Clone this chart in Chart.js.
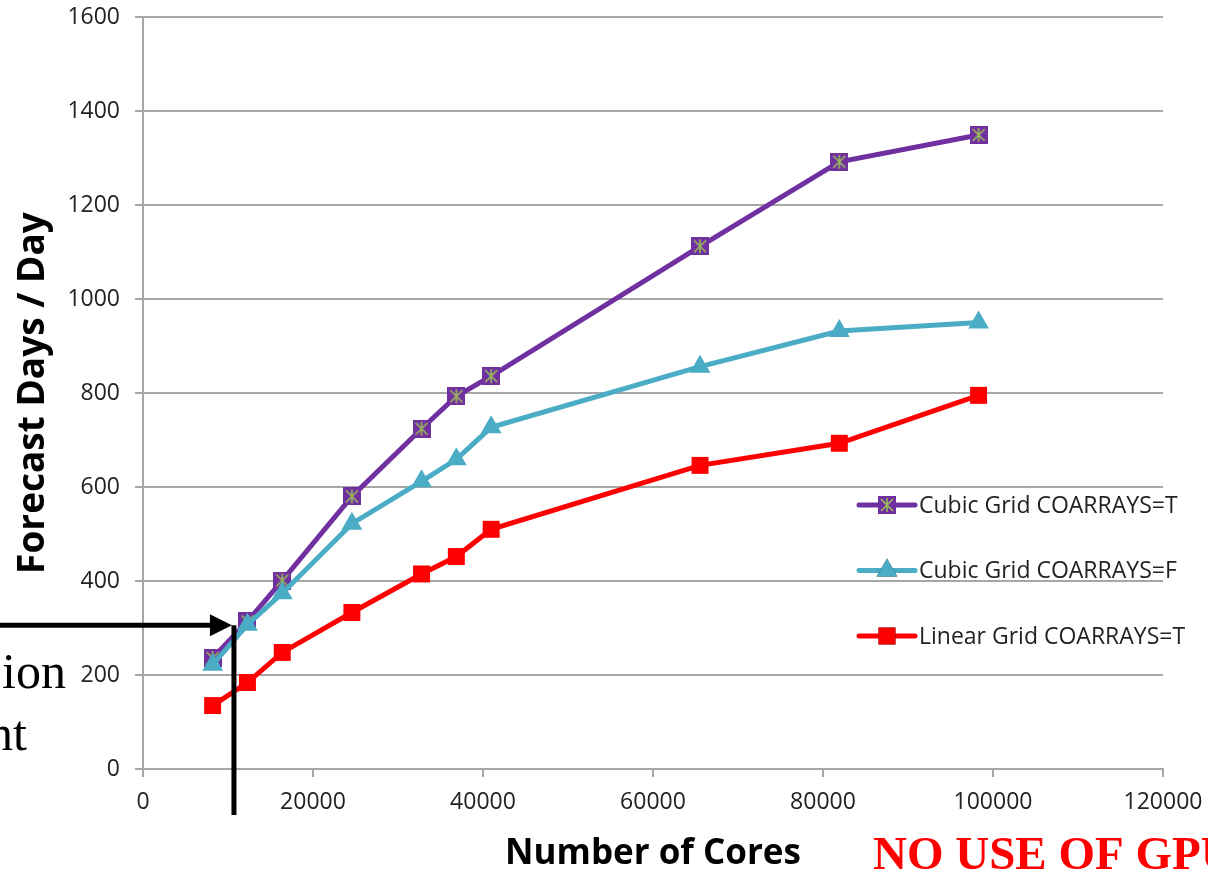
<!DOCTYPE html>
<html>
<head>
<meta charset="utf-8">
<title>Forecast Days / Day vs Number of Cores</title>
<script src="https://cdn.jsdelivr.net/npm/chart.js"></script>
<style>
  html, body { margin: 0; padding: 0; background: #ffffff; overflow: hidden; }
  #wrap { position: relative; width: 1208px; height: 872px; }
</style>
</head>
<body>
<div id="wrap"><canvas id="chart" width="1208" height="872"></canvas></div>
<script>
// Core counts used for each run
const cores = [8192, 12288, 16384, 24576, 32768, 36864, 40960, 65536, 81920, 98304];

// Throughput (forecast days per wall-clock day) for each configuration
const cubicGridCoarraysT = [236, 314, 401, 580, 724, 793, 836, 1112, 1292, 1349];
const cubicGridCoarraysF = [222, 307, 374, 522, 612, 659, 727, 856, 932, 950];
const linearGridCoarraysT = [135, 184, 248, 333, 415, 452, 510, 646, 693, 795];

const seriesNames = ['Cubic Grid COARRAYS=T', 'Cubic Grid COARRAYS=F', 'Linear Grid COARRAYS=T'];

// Axis ranges and tick steps
const xAxisRange = [0, 120000];
const xTickStep = 20000;
const yAxisRange = [0, 1600];
const yTickStep = 200;

// Operating point marked by the black arrow
const markerCores = 10700;
const markerRate = 306;

const PURPLE = '#7030A0';
const CYAN = '#4BACC6';
const RED = '#FF0000';
const STAR = '#9BBB59';
const GRID = '#a6a6a6';

// Square marker with an asterisk, used for the COARRAYS=T cubic series
function starSquare(size) {
  const c = document.createElement('canvas');
  c.width = size; c.height = size;
  const g = c.getContext('2d');
  g.fillStyle = PURPLE;
  g.fillRect(0, 0, size, size);
  g.strokeStyle = STAR;
  g.lineWidth = 1.6;
  const m = size / 2, a = 3, b = size - 3;
  g.beginPath();
  g.moveTo(a, a); g.lineTo(b, b);
  g.moveTo(b, a); g.lineTo(a, b);
  g.moveTo(m, 2); g.lineTo(m, size - 2);
  g.stroke();
  return c;
}
const starMarker = starSquare(18);

const pairs = ys => cores.map((x, i) => ({ x: x, y: ys[i] }));

const datasets = [
  {
    label: seriesNames[0],
    data: pairs(cubicGridCoarraysT),
    borderColor: PURPLE,
    backgroundColor: PURPLE,
    borderWidth: 5,
    pointStyle: starMarker,
    pointRadius: 9,
    order: 3
  },
  {
    label: seriesNames[1],
    data: pairs(cubicGridCoarraysF),
    borderColor: CYAN,
    backgroundColor: CYAN,
    borderWidth: 5,
    pointStyle: 'triangle',
    pointRadius: 12,
    pointBorderWidth: 0,
    order: 2
  },
  {
    label: seriesNames[2],
    data: pairs(linearGridCoarraysT),
    borderColor: RED,
    backgroundColor: RED,
    borderWidth: 5,
    pointStyle: 'rect',
    pointRadius: 12,
    pointBorderWidth: 0,
    order: 1
  }
];

// Legend drawn inside the plot: a short line with the marker on it, then the name
const legendPlugin = {
  id: 'inlineLegend',
  afterDraw(chart) {
    const ctx = chart.ctx;
    const area = chart.chartArea;
    const x0 = area.left + 716, x1 = area.left + 772;
    const top = area.top + 488, step = 65.5;
    ctx.save();
    chart.data.datasets.forEach((ds, i) => {
      const y = top + i * step;
      ctx.strokeStyle = ds.borderColor;
      ctx.lineWidth = 5;
      ctx.lineCap = 'round';
      ctx.beginPath();
      ctx.moveTo(x0, y); ctx.lineTo(x1, y);
      ctx.stroke();
      const cx = (x0 + x1) / 2;
      if (ds.pointStyle instanceof HTMLCanvasElement) {
        const s = ds.pointStyle;
        ctx.drawImage(s, cx - s.width / 2, y - s.height / 2);
      } else {
        Chart.helpers.drawPoint(ctx, {
          pointStyle: ds.pointStyle, radius: ds.pointRadius, borderWidth: 0, rotation: 0
        }, cx, y);
        ctx.fillStyle = ds.backgroundColor;
        ctx.fill();
      }
      ctx.fillStyle = '#222';
      ctx.font = "23px 'Open Sans', sans-serif";
      ctx.textBaseline = 'middle';
      ctx.textAlign = 'left';
      ctx.fillText(ds.label, x1 + 4, y + 1);
    });
    ctx.restore();
  }
};

// Arrow, guide line and slide text around the plot
const notesPlugin = {
  id: 'slideNotes',
  afterDraw(chart) {
    const ctx = chart.ctx;
    const xs = chart.scales.x, ys = chart.scales.y;
    const vx = xs.getPixelForValue(markerCores);
    const hy = ys.getPixelForValue(markerRate);
    ctx.save();
    ctx.fillStyle = '#000';
    ctx.strokeStyle = '#000';
    ctx.lineWidth = 5;
    ctx.lineCap = 'butt';
    // horizontal arrow shaft
    ctx.beginPath();
    ctx.moveTo(0, hy); ctx.lineTo(vx - 22, hy);
    ctx.stroke();
    // arrow head
    ctx.beginPath();
    ctx.moveTo(vx - 2, hy);
    ctx.lineTo(vx - 24, hy - 11);
    ctx.lineTo(vx - 24, hy + 11);
    ctx.closePath();
    ctx.fill();
    // vertical guide line
    ctx.beginPath();
    ctx.moveTo(vx, hy); ctx.lineTo(vx, chart.chartArea.bottom + 46);
    ctx.stroke();

    // slide caption fragments on the left
    ctx.font = "50px 'Liberation Serif', 'Times New Roman', serif";
    ctx.textAlign = 'right';
    ctx.textBaseline = 'alphabetic';
    ctx.fillText('ion', 66, 688);
    ctx.fillText('nt', 27, 750);

    // red note in the lower right
    ctx.fillStyle = RED;
    ctx.font = "bold 47px 'Liberation Serif', 'Times New Roman', serif";
    ctx.textAlign = 'left';
    ctx.fillText('NO USE OF GPU', 873, 869);
    ctx.restore();
  }
};

Chart.defaults.font.family = "'Open Sans', sans-serif";

new Chart(document.getElementById('chart'), {
  type: 'line',
  data: { datasets: datasets },
  options: {
    responsive: false,
    animation: false,
    devicePixelRatio: 1,
    layout: { padding: { top: 17, right: 45, bottom: 0, left: 0 } },
    elements: { line: { tension: 0 } },
    plugins: {
      legend: { display: false },
      tooltip: { enabled: false }
    },
    scales: {
      x: {
        type: 'linear',
        min: xAxisRange[0],
        max: xAxisRange[1],
        afterFit(scale) {
          scale.height = 103;
          scale.paddingLeft = 0;
          scale.paddingRight = 0;
        },
        ticks: {
          stepSize: xTickStep,
          color: '#222',
          font: { size: 23 },
          padding: 12,
          maxRotation: 0,
          callback: v => String(v)
        },
        grid: {
          drawOnChartArea: false,
          drawTicks: true,
          tickLength: 8,
          color: GRID,
          lineWidth: 2
        },
        border: { color: GRID, width: 2 },
        title: {
          display: true,
          text: 'Number of Cores',
          color: '#000',
          font: { size: 35, weight: 'bold', lineHeight: 1 },
          padding: { top: 0, bottom: 0 }
        }
      },
      y: {
        type: 'linear',
        min: yAxisRange[0],
        max: yAxisRange[1],
        afterFit(scale) {
          scale.width = 143;
          scale.paddingTop = 0;
          scale.paddingBottom = 0;
        },
        ticks: {
          stepSize: yTickStep,
          color: '#222',
          font: { size: 23 },
          padding: 15,
          callback: v => String(v)
        },
        grid: {
          color: GRID,
          lineWidth: 2,
          tickLength: 8
        },
        border: { color: GRID, width: 2 },
        title: {
          display: true,
          text: 'Forecast Days / Day',
          color: '#000',
          font: { size: 37, weight: 'bold', lineHeight: 1 },
          padding: { top: 15, bottom: 0 }
        }
      }
    }
  },
  plugins: [legendPlugin, notesPlugin]
});
</script>
</body>
</html>
